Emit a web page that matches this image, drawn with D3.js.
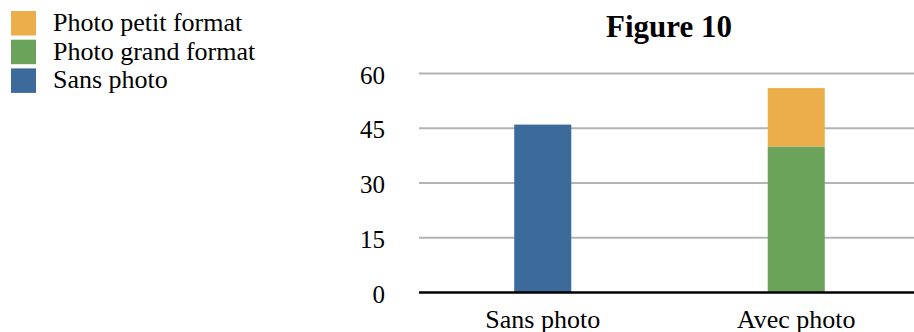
<!DOCTYPE html>
<html>
<head>
<meta charset="utf-8">
<script src="https://cdn.jsdelivr.net/npm/d3@7"></script>
<style>
  html, body { margin: 0; padding: 0; background: #fff; }
  svg { display: block; font-family: "Liberation Serif", "Times New Roman", serif; }
</style>
</head>
<body>
<svg id="chart" width="914" height="332"></svg>
<script>
// Categories and stacked series
const categories = ["Sans photo", "Avec photo"];
const seriesNames = ["Sans photo", "Photo grand format", "Photo petit format"];
const sansPhoto = [46, 0];
const grandFormat = [0, 40];
const petitFormat = [0, 16];
const yTicks = [0, 15, 30, 45, 60];
const colors = ["#3C6A9B", "#6CA35A", "#ECAE4B"];

const rows = categories.map((c, i) => ({
  cat: c,
  "Sans photo": sansPhoto[i],
  "Photo grand format": grandFormat[i],
  "Photo petit format": petitFormat[i]
}));

const FONT = "'Liberation Serif', 'Times New Roman', serif";
const svg = d3.select("#chart");

const x = d3.scaleBand().domain(categories).range([416, 923]).paddingInner(0.775).paddingOuter(0.3875);
const y = d3.scaleLinear().domain([0, 60]).range([292.5, 73.5]);
const color = d3.scaleOrdinal().domain(seriesNames).range(colors);

// Gridlines
svg.append("g")
  .selectAll("line")
  .data(yTicks.filter(d => d > 0))
  .join("line")
  .attr("x1", 419).attr("x2", 914)
  .attr("y1", d => y(d)).attr("y2", d => y(d))
  .attr("stroke", "#b4b4b4").attr("stroke-width", 2);

// Y tick labels
const yAxis = svg.append("g")
  .attr("transform", "translate(385,0)")
  .call(d3.axisLeft(y).tickValues(yTicks).tickSize(0).tickPadding(0));
yAxis.select(".domain").remove();
yAxis.attr("font-family", FONT);
yAxis.selectAll("text")
  .attr("font-size", 25).attr("fill", "#000")
  .attr("dy", "0.38em");

// Stacked bars
const stacked = d3.stack().keys(seriesNames)(rows);
svg.append("g")
  .selectAll("g")
  .data(stacked)
  .join("g")
  .attr("fill", d => color(d.key))
  .selectAll("rect")
  .data(d => d.filter(s => s[1] - s[0] > 0))
  .join("rect")
  .attr("x", d => x(d.data.cat))
  .attr("width", x.bandwidth())
  .attr("y", d => y(d[1]))
  .attr("height", d => y(d[0]) - y(d[1]));

// Baseline
svg.append("line")
  .attr("x1", 419).attr("x2", 914)
  .attr("y1", y(0)).attr("y2", y(0))
  .attr("stroke", "#000").attr("stroke-width", 2.5);

// X category labels
const xAxis = svg.append("g")
  .attr("transform", `translate(0,${y(0)})`)
  .call(d3.axisBottom(x).tickSize(0).tickPadding(0));
xAxis.select(".domain").remove();
xAxis.attr("font-family", FONT);
xAxis.selectAll("text")
  .attr("font-size", 26).attr("fill", "#000")
  .attr("dy", 35.5);

// Title
svg.append("text")
  .attr("x", 669).attr("y", 37)
  .attr("text-anchor", "middle")
  .attr("font-size", 31).attr("font-weight", "bold")
  .text("Figure 10");

// Legend (top series first)
const legendItems = seriesNames.slice().reverse();
const legend = svg.append("g")
  .selectAll("g")
  .data(legendItems)
  .join("g")
  .attr("transform", (d, i) => `translate(11,${11 + i * 28.7})`);
legend.append("rect")
  .attr("width", 25).attr("height", 24.5)
  .attr("fill", d => color(d));
legend.append("text")
  .attr("x", 42).attr("y", 20)
  .attr("font-size", 26)
  .text(d => d);
</script>
</body>
</html>
